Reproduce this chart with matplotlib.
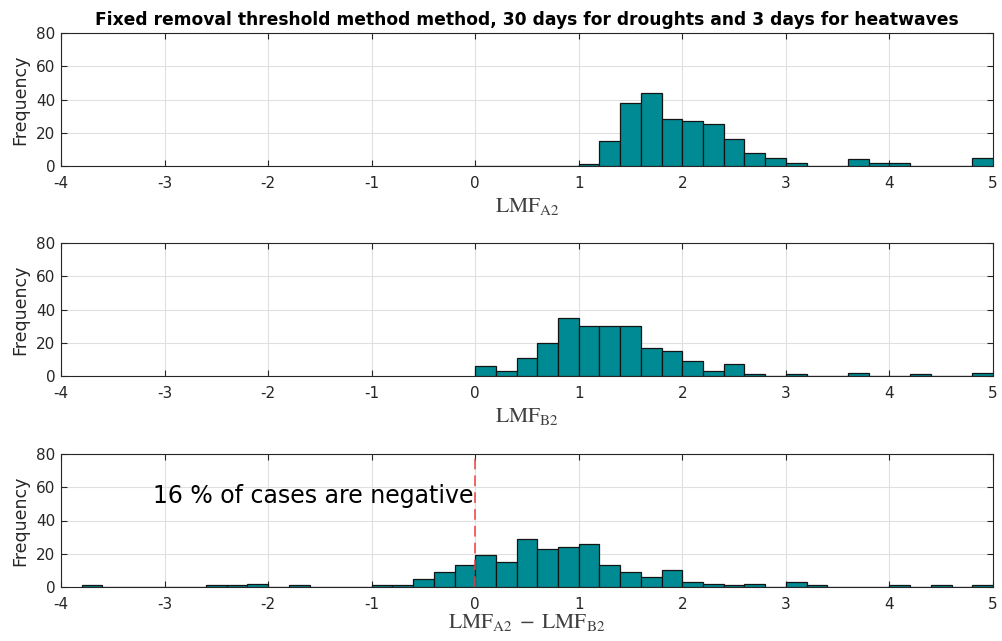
import matplotlib
matplotlib.use('Agg')
import numpy as np
import matplotlib.pyplot as plt

plt.rcParams['font.family'] = ['DejaVu Sans']
plt.rcParams['mathtext.fontset'] = 'stix'
plt.rcParams['axes.unicode_minus'] = False

bin_width = 0.2

# histogram counts, bins of width 0.2
start_a = 0.0
counts_a = [0, 0, 0, 0, 0, 1, 15, 38, 44, 28, 27, 25, 16, 8, 5,
            2, 0, 0, 4, 2, 2, 0, 0, 0, 5]

start_b = 0.0
counts_b = [6, 3, 11, 20, 35, 30, 30, 30, 17, 15, 9, 3, 7, 1, 0,
            1, 0, 0, 2, 0, 0, 1, 0, 0, 2]

start_d = -3.8
counts_d = [1, 0, 0, 0, 0, 0, 1, 1, 2, 0, 1, 0, 0, 0, 1, 1, 5, 9, 13,
            19, 15, 29, 23, 24, 26, 13, 9, 6, 10, 3, 2, 1, 2, 0, 3, 1,
            0, 0, 0, 1, 0, 1, 0, 1]

xlabels = [r'$\mathrm{LMF}_{\mathrm{A2}}$',
           r'$\mathrm{LMF}_{\mathrm{B2}}$',
           r'$\mathrm{LMF}_{\mathrm{A2}}\;-\;\mathrm{LMF}_{\mathrm{B2}}$']
title = 'Fixed removal threshold method method, 30 days for droughts and 3 days for heatwaves'
note = '16 % of cases are negative'

bar_color = '#008b94'
txt_color = '#262626'

W, H = 1002, 641
fig = plt.figure(figsize=(W / 100, H / 100), dpi=100)

tops = [33, 243, 454]
label_pads = [4, 4, 0]
ax_h = 133
left, right = 61, 993

series = [(start_a, counts_a), (start_b, counts_b), (start_d, counts_d)]
axes = []
for i, (st, cnt) in enumerate(series):
    top = tops[i]
    ax = fig.add_axes([left / W, 1 - (top + ax_h) / H, (right - left) / W, ax_h / H])
    edges = st + bin_width * np.arange(len(cnt))
    ax.bar(edges, cnt, width=bin_width, align='edge', color=bar_color,
           edgecolor='#141414', linewidth=0.9, zorder=3)
    ax.set_xlim(-4, 5)
    ax.set_ylim(0, 80)
    ax.set_xticks(range(-4, 6))
    ax.set_yticks([0, 20, 40, 60, 80])
    ax.grid(True, color='#e0e0e0', linewidth=0.8, zorder=0)
    ax.set_axisbelow(True)
    ax.tick_params(direction='in', top=True, right=True, length=4,
                   labelsize=11, colors=txt_color, width=0.8)
    ax.tick_params(axis='x', pad=7)
    ax.tick_params(axis='y', pad=4)
    for sp in ax.spines.values():
        sp.set_color(txt_color)
        sp.set_linewidth(0.8)
    ax.set_ylabel('Frequency', fontsize=12.5, color=txt_color, labelpad=5)
    ax.set_xlabel(xlabels[i], fontsize=15.5, color='#404040', labelpad=label_pads[i])
    axes.append(ax)

axes[0].set_title(title, fontsize=12.3, fontweight='bold', color='black', pad=6)

ax = axes[2]
ax.plot([0, 0], [0, 80], color='#f04040', linestyle=(0, (7, 4)), linewidth=1.1, zorder=4)
ax.text(-0.02, 55, note, ha='right', va='center', fontsize=17, color='black')

fig.savefig('out.png', dpi=100)
